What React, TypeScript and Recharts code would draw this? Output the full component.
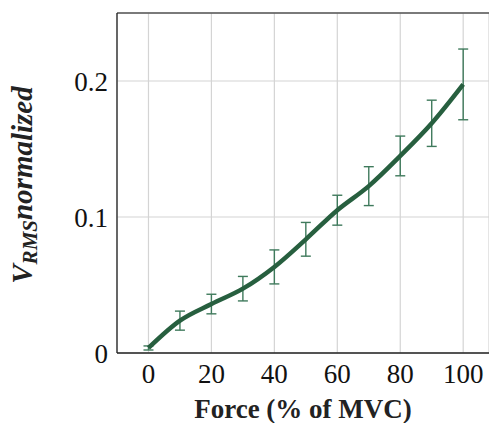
import React from 'react';
import {
  LineChart,
  Line,
  XAxis,
  YAxis,
  CartesianGrid,
  ErrorBar,
  ReferenceLine,
  Label,
} from 'recharts';

const forces = [0, 10, 20, 30, 40, 50, 60, 70, 80, 90, 100];
const vrms = [0.0037, 0.0238, 0.036, 0.0473, 0.0633, 0.0836, 0.105, 0.1227, 0.1449, 0.1689, 0.1975];
const vrmsErr = [0.0015, 0.007, 0.0072, 0.009, 0.0125, 0.0124, 0.011, 0.0143, 0.0146, 0.017, 0.026];
const xTicks = [0, 20, 40, 60, 80, 100];
const yTicks = [0, 0.1, 0.2];

const data = forces.map((f, i) => ({ force: f, vrms: vrms[i], err: vrmsErr[i] }));

const FONT = '"Liberation Serif", "DejaVu Serif", serif';
const LINE_COLOR = '#275f3f';
const BAR_COLOR = '#3f7a5c';

// y label with a subscript RMS
const YLabel = (props: any) => {
  const vb = props.viewBox || { x: 0, y: 0, height: 0 };
  const cy = vb.y + vb.height / 2 + 2;
  const cx = vb.x + 32;
  return (
    <text
      transform={`translate(${cx},${cy}) rotate(-90)`}
      textAnchor="middle"
      fontFamily={FONT}
      fontWeight="bold"
      fontStyle="italic"
      fontSize={29}
      fill="#222"
    >
      <tspan>V</tspan>
      <tspan fontSize={21} dy={5}>RMS</tspan>
      <tspan dy={-5}>normalized</tspan>
    </text>
  );
};

export default function App() {
  return (
    <div style={{ position: 'absolute', left: 0, top: 0, width: 489, height: 423, overflow: 'hidden', background: '#fff' }}>
      <LineChart
        width={489}
        height={423}
        data={data}
        margin={{ top: 13, right: 0, left: 0, bottom: 0 }}
      >
        <CartesianGrid stroke="#d4d4d4" strokeWidth={1.2} />
        <XAxis
          dataKey="force"
          type="number"
          domain={[-10, 108.2]}
          ticks={xTicks}
          allowDataOverflow
          height={70}
          tickLine={false}
          tickSize={0}
          tickMargin={11}
          axisLine={{ stroke: '#222', strokeWidth: 1.3 }}
          tick={{ fontSize: 27, fontFamily: FONT, fill: '#111' }}
        >
          <Label
            value="Force (% of MVC)"
            position="insideBottom"
            offset={5}
            style={{ fontSize: 27, fontFamily: FONT, fontWeight: 'bold', fill: '#222' }}
          />
        </XAxis>
        <YAxis
          type="number"
          domain={[0, 0.25]}
          ticks={yTicks}
          allowDataOverflow
          width={117}
          tickLine={false}
          tickSize={0}
          tickMargin={9}
          axisLine={{ stroke: '#222', strokeWidth: 1.3 }}
          tick={{ fontSize: 27, fontFamily: FONT, fill: '#111' }}
          tickFormatter={(v: number) => (v === 0 ? '0' : String(v))}
        >
          <Label content={<YLabel />} />
        </YAxis>
        <ReferenceLine y={0.25} stroke="#555" strokeWidth={1.3} />
        <Line
          type="monotone"
          dataKey="vrms"
          stroke={LINE_COLOR}
          strokeWidth={4.5}
          dot={false}
          isAnimationActive={false}
        >
          <ErrorBar dataKey="err" width={5} stroke={BAR_COLOR} strokeWidth={1.4} direction="y" />
        </Line>
      </LineChart>
    </div>
  );
}
